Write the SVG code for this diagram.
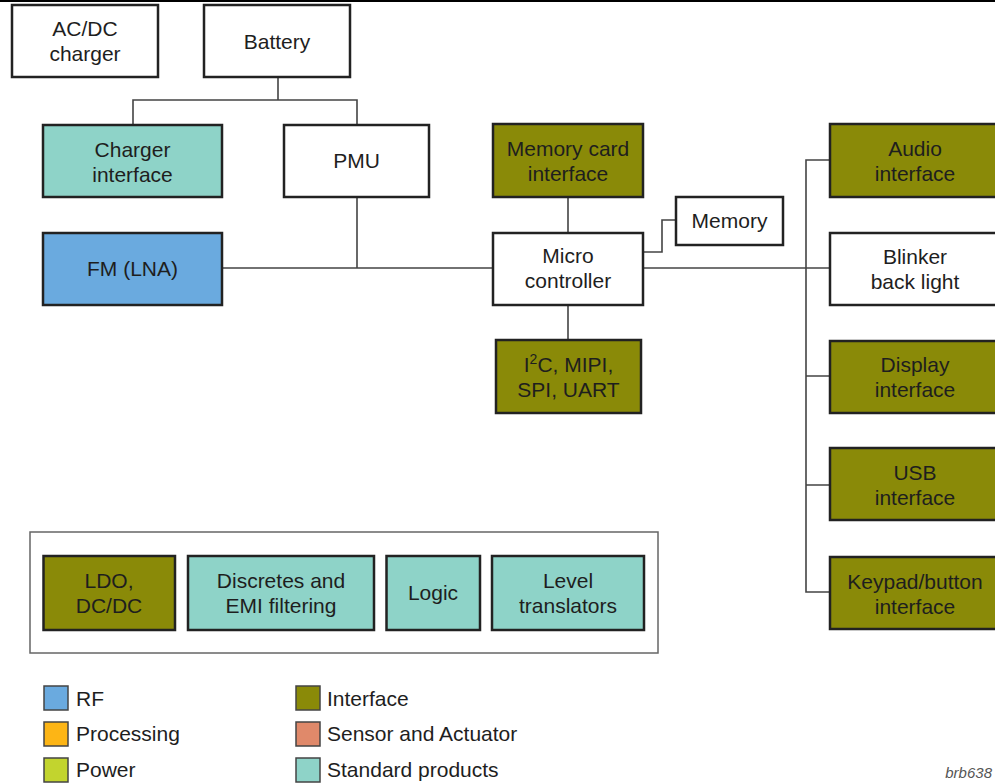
<svg xmlns="http://www.w3.org/2000/svg" width="995" height="784" viewBox="0 0 995 784">
<style>
.b{stroke:#222;stroke-width:2.5}
.w{fill:#fff}
.o{fill:#8a8a08}
.t{fill:#8ed3c8}
.r{fill:#6aaadf}
.c{fill:none;stroke:#444;stroke-width:1.6}
text{font-family:"Liberation Sans",Arial,sans-serif;font-size:21px;fill:#1e1e1e;text-anchor:middle}
.lg{font-size:21px;text-anchor:start}
.ls{stroke:#444;stroke-width:1.5}
</style>
<rect x="0" y="0" width="995" height="784" fill="#fff"/>
<rect x="0" y="0" width="995" height="2" fill="#000"/>
<g id="connectors">
<path class="c" d="M278 77V100M133 125V100H357V125"/>
<path class="c" d="M357 197V268M222 268H493"/>
<path class="c" d="M568 197V233M568 305V340"/>
<path class="c" d="M643 252H662V220H676"/>
<path class="c" d="M643 268H830"/>
<path class="c" d="M830 160H806V592H830M806 376H830M806 485H830"/>
</g>
<g id="acdc"><rect class="b w" x="12" y="5" width="146" height="72"/><text x="85" y="36">AC/DC</text><text x="85" y="61">charger</text></g>
<g id="battery"><rect class="b w" x="204" y="5" width="146" height="72"/><text x="277" y="49">Battery</text></g>
<g id="charger-interface"><rect class="b t" x="43" y="125" width="179" height="72"/><text x="132.5" y="157">Charger</text><text x="132.5" y="182">interface</text></g>
<g id="pmu"><rect class="b w" x="284" y="125" width="145" height="72"/><text x="356.5" y="168">PMU</text></g>
<g id="fm"><rect class="b r" x="43" y="233" width="179" height="72"/><text x="132.5" y="276">FM (LNA)</text></g>
<g id="memory-card"><rect class="b o" x="493" y="124" width="150" height="73"/><text x="568" y="156">Memory card</text><text x="568" y="181">interface</text></g>
<g id="memory"><rect class="b w" x="676" y="197" width="107" height="48"/><text x="729.5" y="228">Memory</text></g>
<g id="micro"><rect class="b w" x="493" y="233" width="150" height="72"/><text x="568" y="263">Micro</text><text x="568" y="288">controller</text></g>
<g id="i2c"><rect class="b o" x="496" y="340" width="145" height="73"/><text x="568.5" y="372">I<tspan baseline-shift="super" font-size="14">2</tspan>C, MIPI,</text><text x="568.5" y="397">SPI, UART</text></g>
<g id="audio"><rect class="b o" x="830" y="124" width="170" height="73"/><text x="915" y="156">Audio</text><text x="915" y="181">interface</text></g>
<g id="blinker"><rect class="b w" x="830" y="233" width="170" height="72"/><text x="915" y="264">Blinker</text><text x="915" y="289">back light</text></g>
<g id="display"><rect class="b o" x="830" y="341" width="170" height="72"/><text x="915" y="372">Display</text><text x="915" y="397">interface</text></g>
<g id="usb"><rect class="b o" x="830" y="448" width="170" height="72"/><text x="915" y="480">USB</text><text x="915" y="505">interface</text></g>
<g id="keypad"><rect class="b o" x="830" y="557" width="170" height="72"/><text x="915" y="589">Keypad/button</text><text x="915" y="614">interface</text></g>
<g id="group"><rect x="30" y="532" width="628" height="121" fill="none" stroke="#666" stroke-width="1.5"/></g>
<g id="ldo"><rect class="b o" x="43.5" y="556" width="131.5" height="74"/><text x="109" y="588">LDO,</text><text x="109" y="613">DC/DC</text></g>
<g id="discretes"><rect class="b t" x="188" y="556" width="186" height="74"/><text x="281" y="588">Discretes and</text><text x="281" y="613">EMI filtering</text></g>
<g id="logic"><rect class="b t" x="386.5" y="556" width="93.5" height="74"/><text x="433" y="600">Logic</text></g>
<g id="level"><rect class="b t" x="492" y="556" width="152" height="74"/><text x="568" y="588">Level</text><text x="568" y="613">translators</text></g>
<g id="legend">
<rect class="ls" x="44" y="686" width="24" height="24" fill="#6aaadf"/><text class="lg" x="76" y="706">RF</text>
<rect class="ls" x="44" y="722" width="24" height="24" fill="#fdb515"/><text class="lg" x="76" y="741">Processing</text>
<rect class="ls" x="44" y="758" width="24" height="24" fill="#c2d42e"/><text class="lg" x="76" y="777">Power</text>
<rect class="ls" x="296" y="686" width="24" height="24" fill="#8a8a08"/><text class="lg" x="327" y="706">Interface</text>
<rect class="ls" x="296" y="722" width="24" height="24" fill="#e0896a"/><text class="lg" x="327" y="741">Sensor and Actuator</text>
<rect class="ls" x="296" y="758" width="24" height="24" fill="#8ed3c8"/><text class="lg" x="327" y="777">Standard products</text>
</g>
<text x="992" y="778" style="font-size:15px;font-style:italic;fill:#555;text-anchor:end">brb638</text>
</svg>
